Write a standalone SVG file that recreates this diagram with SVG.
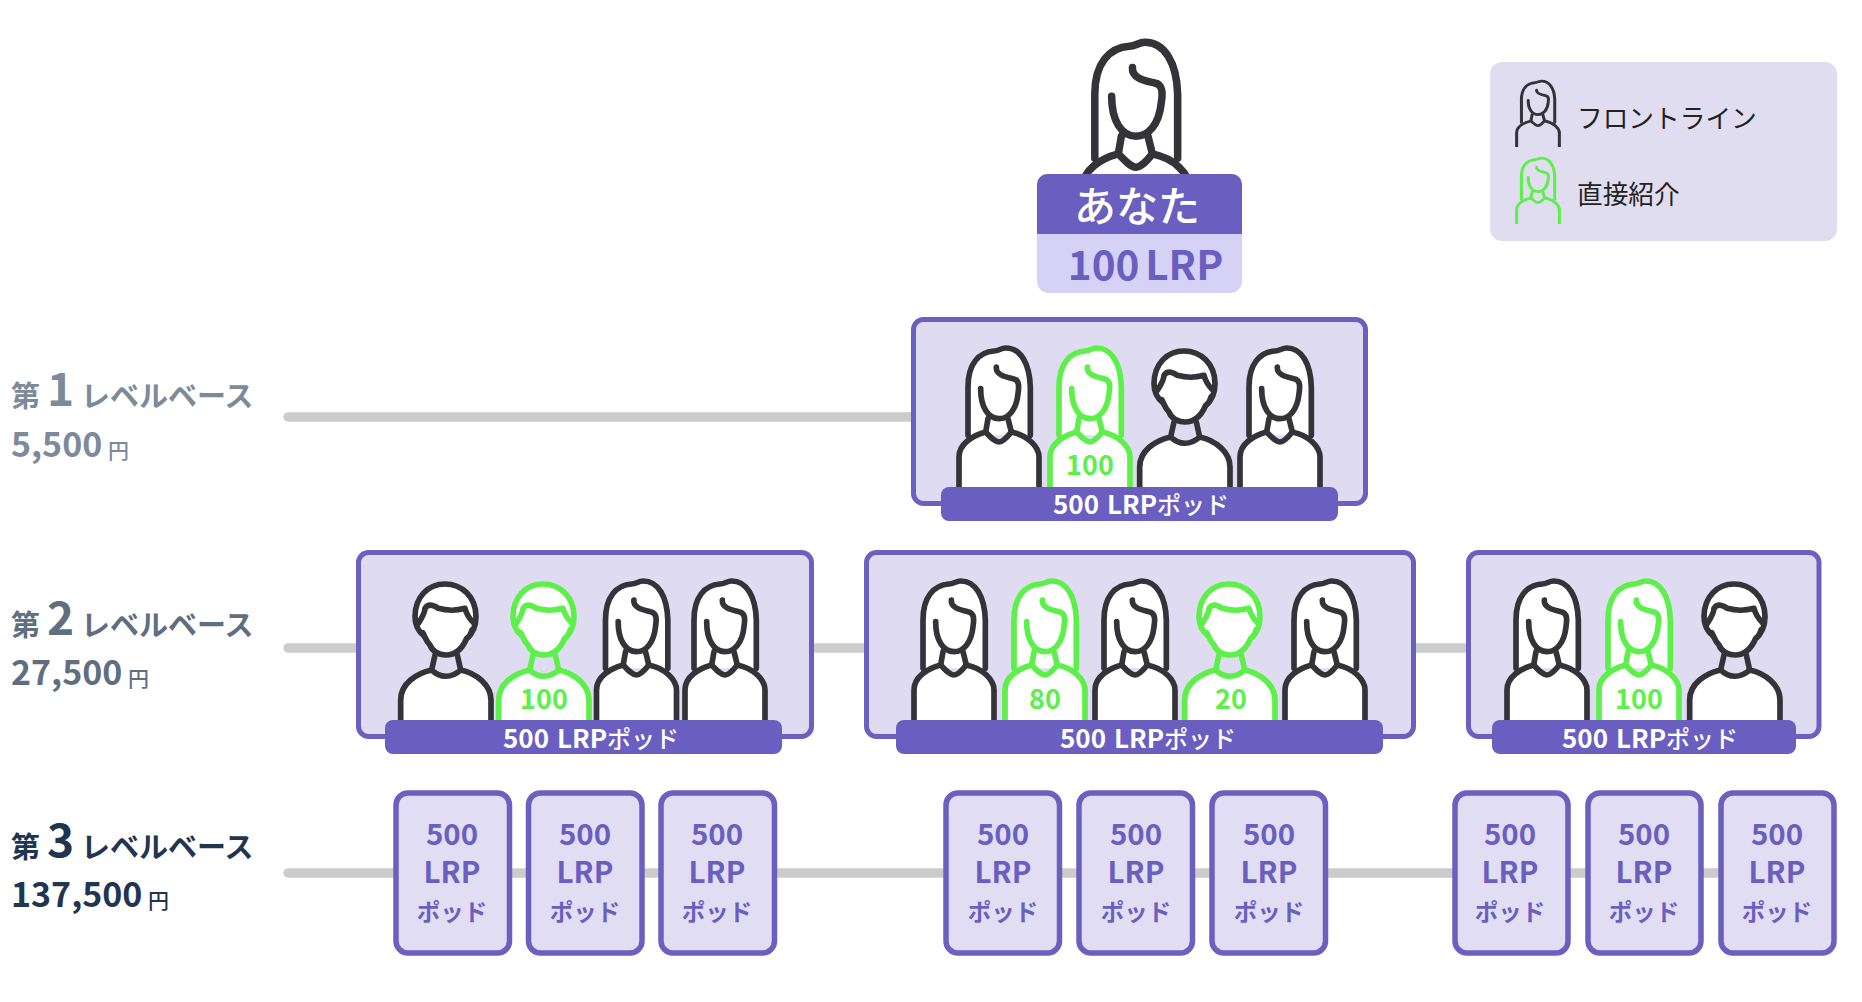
<svg xmlns="http://www.w3.org/2000/svg" xmlns:xlink="http://www.w3.org/1999/xlink" width="1862" height="1002" viewBox="0 0 1862 1002">
<style>
text{font-family:"Noto Sans CJK JP","Noto Sans",sans-serif}
.frame{fill:#dfdcf1;stroke:#6b60c0;stroke-width:5}
.box{fill:#e1def3;stroke:#6b60c0;stroke-width:5.5}
.pill{fill:#6a5fc1}
.pt{fill:#fff;font-size:26px;font-weight:700;text-anchor:middle;word-spacing:2px}
.pk{font-size:24px;font-weight:500}
.bt{fill:#6a5fc1;font-size:29.5px;font-weight:700;text-anchor:middle}
.bk{fill:#6a5fc1;font-size:23.5px;font-weight:700;text-anchor:middle}
.gn{fill:#5ef04a;font-size:27px;font-weight:700;text-anchor:middle}
.dark{stroke:#333338;fill:#fff}
.green{stroke:#5ef04a;fill:#fff}
.leg{fill:none}
.fig path{stroke-width:17;stroke-linecap:round;stroke-linejoin:round}
.nf{fill:none}
.conn{stroke:#cccccc;stroke-width:9.5;stroke-linecap:round;fill:none}
.lg{fill:#222;font-size:25.7px;font-weight:400}
.c1{fill:#7c8a99}.c2{fill:#5f6f80}.c3{fill:#1f3550}
.lv{font-size:29px;font-weight:700}
.n{font-size:46px;font-weight:700}
.am{font-size:34px;font-weight:700}
.yen{font-size:21px;font-weight:500}
</style>
<defs>
<g id="woman" class="fig">
<path d="M-93,-155 L-93,-300 C-93,-370 -60,-405 -15,-408 C0,-408 5,-417 20,-417 C65,-417 92,-370 94,-300 L94,-155"/>
<path class="nf" d="M-8,-360 C-10,-335 22,-330 42,-325 C62,-322 60,-300 57,-280 C52,-230 27,-205 0,-205 C-33,-205 -55,-240 -55,-295"/>
<path class="nf" d="M-33,-205 L-40,-165 M27,-205 L37,-165"/>
<path style="stroke-linecap:butt" d="M-120,0 L-120,-90 C-120,-130 -78,-155 -40,-165 C-25,-150 -12,-135 0,-135 C12,-135 25,-150 37,-165 C87,-155 120,-120 120,-90 L120,0"/>
</g>
<g id="man" class="fig">
<path d="M-63,-250 C-83,-265 -93,-285 -93,-310 C-93,-370 -53,-408 -3,-408 C47,-408 90,-370 90,-310 C90,-285 80,-260 62,-245"/>
<path d="M-70,-262 C-62,-250 -63,-240 -48,-225 C-42,-208 -23,-195 0,-195 C27,-195 47,-210 62,-245 C70,-250 76,-262 78,-270"/>
<path class="nf" d="M-83,-290 C-73,-305 -63,-325 -63,-335 C-53,-350 -38,-345 -23,-335 C2,-328 32,-328 57,-335 C62,-315 74,-300 84,-290"/>
<path class="nf" d="M-33,-195 L-43,-150 M34,-195 L44,-150"/>
<path style="stroke-linecap:butt" d="M-136,0 L-136,-60 C-136,-110 -88,-140 -43,-150 C-18,-125 17,-125 44,-150 C92,-140 135,-105 135,-60 L135,0"/>
</g>
</defs>
<rect width="1862" height="1002" fill="#fff"/>
<g id="connectors">
<path class="conn" d="M288,417 H915"/>
<path class="conn" d="M288,648 H360 M814,648 H868 M1416,648 H1470"/>
<path class="conn" d="M288,873 H1460"/>
<path class="conn" d="M1565,873 H1590 M1698,873 H1722"/>
</g>
<g id="you">
<use xlink:href="#woman" href="#woman" class="dark" transform="translate(1136,227) scale(.443)"/>
<path fill="#d6d2f5" d="M1037,230 H1242 V281 a12,12 0 0 1 -12,12 H1049 a12,12 0 0 1 -12,-12 Z"/>
<path fill="#6a5fc1" d="M1037,234 V184 a10,10 0 0 1 10,-10 H1232 a10,10 0 0 1 10,10 V234 Z"/>
<text x="1137" y="222" fill="#fff" font-size="42" font-weight="500" text-anchor="middle">あなた</text>
<text x="1145.5" y="280" fill="#6a5fc1" font-size="40.5" font-weight="700" text-anchor="middle" word-spacing="-3.5">100 LRP</text>
</g>
<g id="legend">
<rect x="1490" y="62" width="347" height="179" rx="12" fill="#e0ddf1"/>
<use xlink:href="#woman" href="#woman" class="dark leg" transform="translate(1538,147) scale(.178,.158)"/>
<use xlink:href="#woman" href="#woman" class="green leg" transform="translate(1538,224) scale(.178,.158)"/>
<text class="lg" x="1577" y="128">フロントライン</text>
<text class="lg" x="1577" y="204">直接紹介</text>
</g>
<g id="label-1">
<text class="lv c1" x="11" y="407">第</text>
<text class="n c1" x="47" y="406">1</text>
<text class="lv c1" x="81" y="407">レベルベース</text>
<text class="am c1" x="11" y="457">5,500</text>
<text class="yen c1" x="108" y="458">円</text>
</g>
<g id="label-2">
<text class="lv c2" x="11" y="636">第</text>
<text class="n c2" x="47" y="635">2</text>
<text class="lv c2" x="81" y="636">レベルベース</text>
<text class="am c2" x="11" y="685">27,500</text>
<text class="yen c2" x="128" y="686">円</text>
</g>
<g id="label-3">
<text class="lv c3" x="11" y="858">第</text>
<text class="n c3" x="47" y="857">3</text>
<text class="lv c3" x="81" y="858">レベルベース</text>
<text class="am c3" x="11" y="907">137,500</text>
<text class="yen c3" x="148" y="908">円</text>
</g>
<g id="pod-l1">
<rect class="frame" x="913.5" y="319.5" width="452" height="184" rx="10"/>
<use xlink:href="#woman" href="#woman" class="dark" transform="translate(999,487) scale(.3333)"/>
<use xlink:href="#woman" href="#woman" class="green" transform="translate(1090,487) scale(.3333)"/>
<use xlink:href="#man" href="#man" class="dark" transform="translate(1185,487) scale(.3333)"/>
<use xlink:href="#woman" href="#woman" class="dark" transform="translate(1280,487) scale(.3333)"/>
<text class="gn" x="1090" y="475">100</text>
<rect class="pill" x="941" y="487" width="397" height="34" rx="8"/>
<text class="pt" x="1141" y="514">500 LRP<tspan class="pk">ポッド</tspan></text>
</g>
<g id="pod-l2a">
<rect class="frame" x="358.5" y="552.5" width="453" height="184" rx="10"/>
<use xlink:href="#man" href="#man" class="dark" transform="translate(446,720) scale(.3333)"/>
<use xlink:href="#man" href="#man" class="green" transform="translate(544,720) scale(.3333)"/>
<use xlink:href="#woman" href="#woman" class="dark" transform="translate(636.5,720) scale(.3333)"/>
<use xlink:href="#woman" href="#woman" class="dark" transform="translate(725,720) scale(.3333)"/>
<text class="gn" x="544" y="709">100</text>
<rect class="pill" x="385" y="720" width="397" height="34" rx="8"/>
<text class="pt" x="591" y="748">500 LRP<tspan class="pk">ポッド</tspan></text>
</g>
<g id="pod-l2b">
<rect class="frame" x="866.5" y="552.5" width="547" height="184" rx="10"/>
<use xlink:href="#woman" href="#woman" class="dark" transform="translate(954,720) scale(.3333)"/>
<use xlink:href="#woman" href="#woman" class="green" transform="translate(1045,720) scale(.3333)"/>
<use xlink:href="#woman" href="#woman" class="dark" transform="translate(1135,720) scale(.3333)"/>
<use xlink:href="#man" href="#man" class="green" transform="translate(1230,720) scale(.3333)"/>
<use xlink:href="#woman" href="#woman" class="dark" transform="translate(1325,720) scale(.3333)"/>
<text class="gn" x="1045" y="709">80</text>
<text class="gn" x="1231" y="709">20</text>
<rect class="pill" x="896" y="720" width="487" height="34" rx="8"/>
<text class="pt" x="1148" y="748">500 LRP<tspan class="pk">ポッド</tspan></text>
</g>
<g id="pod-l2c">
<rect class="frame" x="1468.5" y="552.5" width="350.5" height="184" rx="10"/>
<use xlink:href="#woman" href="#woman" class="dark" transform="translate(1547,720) scale(.3333)"/>
<use xlink:href="#woman" href="#woman" class="green" transform="translate(1639,720) scale(.3333)"/>
<use xlink:href="#man" href="#man" class="dark" transform="translate(1735,720) scale(.3333)"/>
<text class="gn" x="1639" y="709">100</text>
<rect class="pill" x="1492" y="720" width="304" height="34" rx="8"/>
<text class="pt" x="1650" y="748">500 LRP<tspan class="pk">ポッド</tspan></text>
</g>
<g id="pod-3-1"><rect class="box" x="396" y="793" width="113.5" height="160" rx="12"/><text class="bt" x="452" y="845">500</text><text class="bt" x="452" y="883">LRP</text><text class="bk" x="452" y="921">ポッド</text></g>
<g id="pod-3-2"><rect class="box" x="528.5" y="793" width="113.5" height="160" rx="12"/><text class="bt" x="585" y="845">500</text><text class="bt" x="585" y="883">LRP</text><text class="bk" x="585" y="921">ポッド</text></g>
<g id="pod-3-3"><rect class="box" x="661" y="793" width="113.5" height="160" rx="12"/><text class="bt" x="717" y="845">500</text><text class="bt" x="717" y="883">LRP</text><text class="bk" x="717" y="921">ポッド</text></g>
<g id="pod-3-4"><rect class="box" x="946" y="793" width="113.5" height="160" rx="12"/><text class="bt" x="1003" y="845">500</text><text class="bt" x="1003" y="883">LRP</text><text class="bk" x="1003" y="921">ポッド</text></g>
<g id="pod-3-5"><rect class="box" x="1079" y="793" width="113.5" height="160" rx="12"/><text class="bt" x="1136" y="845">500</text><text class="bt" x="1136" y="883">LRP</text><text class="bk" x="1136" y="921">ポッド</text></g>
<g id="pod-3-6"><rect class="box" x="1212" y="793" width="113.5" height="160" rx="12"/><text class="bt" x="1269" y="845">500</text><text class="bt" x="1269" y="883">LRP</text><text class="bk" x="1269" y="921">ポッド</text></g>
<g id="pod-3-7"><rect class="box" x="1455" y="793" width="113" height="160" rx="12"/><text class="bt" x="1510" y="845">500</text><text class="bt" x="1510" y="883">LRP</text><text class="bk" x="1510" y="921">ポッド</text></g>
<g id="pod-3-8"><rect class="box" x="1588" y="793" width="113" height="160" rx="12"/><text class="bt" x="1644" y="845">500</text><text class="bt" x="1644" y="883">LRP</text><text class="bk" x="1644" y="921">ポッド</text></g>
<g id="pod-3-9"><rect class="box" x="1721" y="793" width="113" height="160" rx="12"/><text class="bt" x="1777" y="845">500</text><text class="bt" x="1777" y="883">LRP</text><text class="bk" x="1777" y="921">ポッド</text></g>
</svg>
